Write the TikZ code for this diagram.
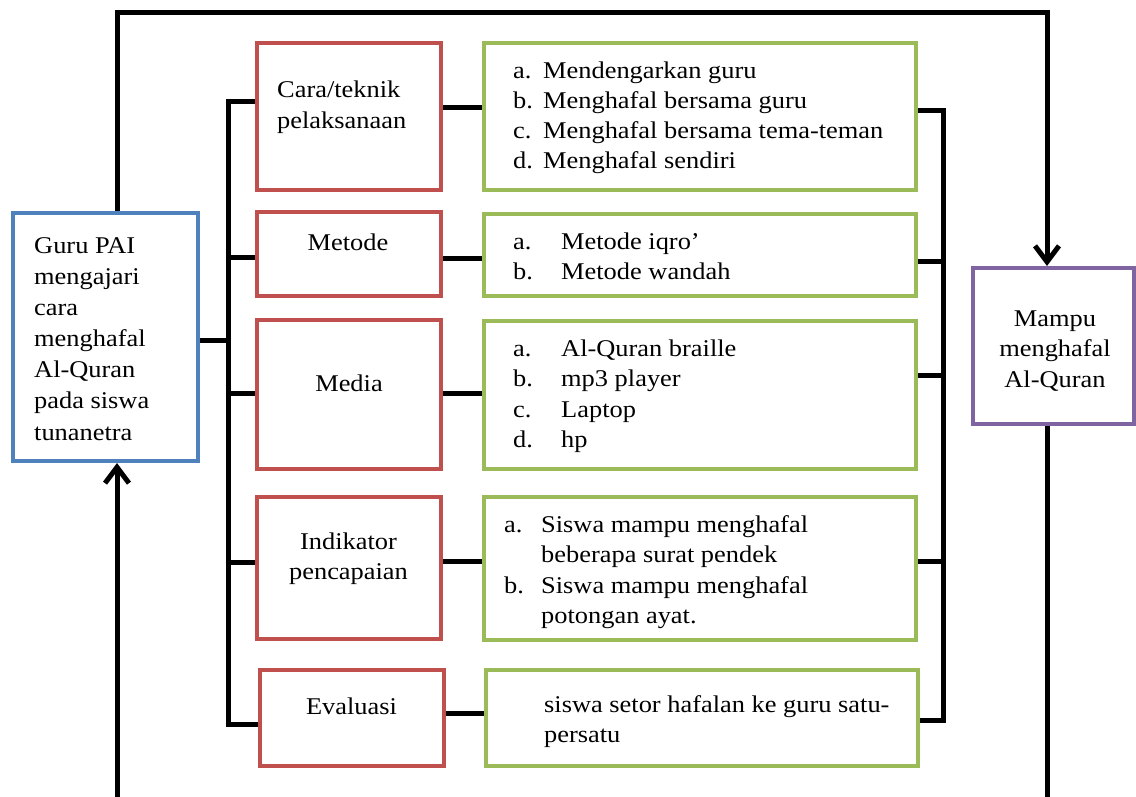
\documentclass[tikz,border=0pt]{standalone}
\usepackage{fontspec}
\setmainfont[FakeStretch=1.1]{Liberation Serif}
\usetikzlibrary{arrows.meta}
\definecolor{boxblue}{HTML}{4F81BD}
\definecolor{boxred}{HTML}{C0504D}
\definecolor{boxgreen}{HTML}{9BBB59}
\definecolor{boxpurple}{HTML}{8064A2}
\begin{document}
\begin{tikzpicture}[x=1pt,y=-1pt,
  frame/.style={draw, line width=4pt, inner sep=0pt},
  bluebox/.style={frame, draw=boxblue},
  redbox/.style={frame, draw=boxred, minimum width=184},
  greenbox/.style={frame, draw=boxgreen, minimum width=432},
  purplebox/.style={frame, draw=boxpurple},
  txt/.style={inner sep=0pt, font=\fontsize{24}{30.5}\selectfont},
  conn/.style={line width=5pt, black},
  loop/.style={line width=5pt, black, -{Straight Barb[length=16pt,width=24pt,line width=5pt]}}]
\useasboundingbox (0,0) rectangle (1136,797);

% main boxes
\node[bluebox, minimum width=185, minimum height=248] (guru) at (105.5,337) {};
\node[purplebox, minimum width=161, minimum height=156] (mampu) at (1053.5,346) {};

% component boxes
\node[redbox, minimum height=147] (r1) at (349,116.5) {};
\node[redbox, minimum height=84]  (r2) at (349,254) {};
\node[redbox, minimum height=149] (r3) at (349,394.5) {};
\node[redbox, minimum height=142] (r4) at (349,568) {};
\node[redbox, minimum height=96]  (r5) at (352,718) {};

% detail boxes
\node[greenbox, minimum height=147] (g1) at (700,116.5) {};
\node[greenbox, minimum height=82]  (g2) at (700,255) {};
\node[greenbox, minimum height=148] (g3) at (700,395) {};
\node[greenbox, minimum height=143] (g4) at (700,568.5) {};
\node[greenbox, minimum height=96]  (g5) at (702,718) {};

% texts
\node[txt, anchor=base west, font=\fontsize{24}{31.2}\selectfont] (guruT) at (34,253)
  {\begin{tabular}[t]{@{}l@{}}Guru PAI\\ mengajari\\ cara\\ menghafal\\ Al-Quran\\ pada siswa\\ tunanetra\end{tabular}};
\node[txt, anchor=base] (mampuT) at (1055,326)
  {\begin{tabular}[t]{@{}c@{}}Mampu\\ menghafal\\ Al-Quran\end{tabular}};

\node[txt, anchor=base west] (r1T) at (277,98)
  {\begin{tabular}[t]{@{}l@{}}Cara/teknik\\ pelaksanaan\end{tabular}};
\node[txt, anchor=base] (r2T) at (348,250) {Metode};
\node[txt, anchor=base] (r3T) at (349,391) {Media};
\node[txt, anchor=base] (r4T) at (348.5,549)
  {\begin{tabular}[t]{@{}c@{}}Indikator\\ pencapaian\end{tabular}};
\node[txt, anchor=base] (r5T) at (351.5,714) {Evaluasi};

\node[txt, anchor=base west, font=\fontsize{24}{30}\selectfont] (g1T) at (513,79)
  {\begin{tabular}[t]{@{}p{30pt}@{}l@{}}a. & Mendengarkan guru\\ b. & Menghafal bersama guru\\
   c. & Menghafal bersama tema-teman\\ d. & Menghafal sendiri\end{tabular}};
\node[txt, anchor=base west, font=\fontsize{24}{30}\selectfont] (g2T) at (513,249)
  {\begin{tabular}[t]{@{}p{48pt}@{}l@{}}a. & Metode iqro'\\ b. & Metode wandah\end{tabular}};
\node[txt, anchor=base west] (g3T) at (513,356)
  {\begin{tabular}[t]{@{}p{48pt}@{}l@{}}a. & Al-Quran braille\\ b. & mp3 player\\ c. & Laptop\\ d. & hp\end{tabular}};
\node[txt, anchor=base west] (g4T) at (504,532)
  {\begin{tabular}[t]{@{}p{37pt}@{}l@{}}a. & Siswa mampu menghafal\\ & beberapa surat pendek\\
   b. & Siswa mampu menghafal\\ & potongan ayat.\end{tabular}};
\node[txt, anchor=base west] (g5T) at (544,712)
  {\begin{tabular}[t]{@{}l@{}}siswa setor hafalan ke guru satu-\\ persatu\end{tabular}};

% left bus
\coordinate (lbA) at (228,102);
\coordinate (lbB) at (228,257);
\coordinate (lbC) at (228,393);
\coordinate (lbD) at (228,562);
\coordinate (lbE) at (228,724);
\draw[conn] (guru.east |- 0,340) -- (lbA |- 0,340);
\draw[conn] (r1.west |- lbA) -- (lbA) -- (lbE) -- (r5.west |- lbE);
\draw[conn] (lbB) -- (r2.west |- lbB);
\draw[conn] (lbC) -- (r3.west |- lbC);
\draw[conn] (lbD) -- (r4.west |- lbD);

% component to detail links
\draw[conn] (r1.east |- 0,108) -- (g1.west |- 0,108);
\draw[conn] (r2.east |- 0,258) -- (g2.west |- 0,258);
\draw[conn] (r3.east |- 0,393) -- (g3.west |- 0,393);
\draw[conn] (r4.east |- 0,561) -- (g4.west |- 0,561);
\draw[conn] (r5.east |- 0,713) -- (g5.west |- 0,713);

% right bus
\coordinate (rbA) at (943,111);
\coordinate (rbB) at (943,261);
\coordinate (rbC) at (943,375);
\coordinate (rbD) at (943,561);
\coordinate (rbE) at (943,720);
\draw[conn] (g1.east |- rbA) -- (rbA) -- (rbE) -- (g5.east |- rbE);
\draw[conn] (g2.east |- rbB) -- (rbB);
\draw[conn] (g3.east |- rbC) -- (rbC);
\draw[conn] (g4.east |- rbD) -- (rbD);

% outer feedback loop
\coordinate (topL) at (117,13);
\coordinate (topR) at (1047,13);
\coordinate (botL) at (117,797);
\coordinate (botR) at (1047,797);
\draw[loop] (topL |- guru.north) -- (topL) -- (topR) -- (topR |- mampu.north);
\draw[conn] (topR |- mampu.south) -- (botR);
\draw[loop] (botL) -- (botL |- guru.south);
\end{tikzpicture}
\end{document}
